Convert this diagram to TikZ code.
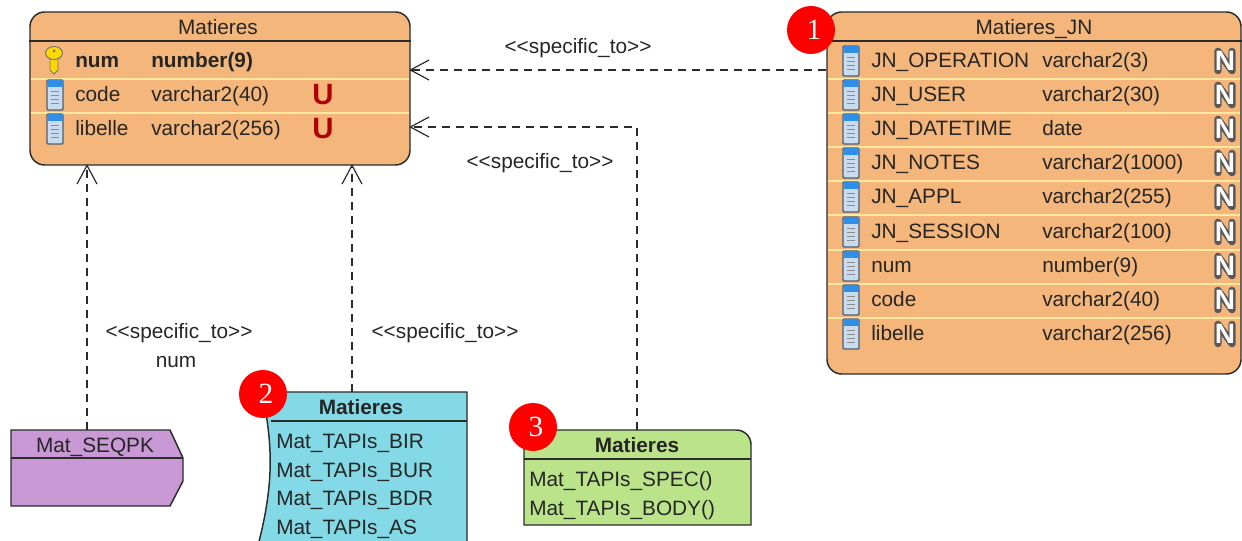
\documentclass[tikz,border=0pt]{standalone}
\usepackage{fontspec}
\setmainfont{Liberation Sans}
\newfontfamily\badgefont{Liberation Serif}
\usetikzlibrary{arrows.meta,positioning}
\definecolor{tablefill}{HTML}{F4B67A}
\definecolor{rowline}{HTML}{FFE9A0}
\definecolor{seqfill}{HTML}{C999D6}
\definecolor{pkgfill}{HTML}{84D9E6}
\definecolor{procfill}{HTML}{BBE48A}
\definecolor{edge}{HTML}{2B2B2B}
\definecolor{inktext}{HTML}{262626}
\definecolor{colbody}{HTML}{C9DBEE}
\definecolor{colband}{HTML}{2F8FE6}
\definecolor{colrim}{HTML}{4F5F73}
\tikzset{
	colicon/.pic={
		\draw [rounded corners=0.8pt,draw=colrim,line width=1.1pt,fill=colbody] (-8,-15) rectangle (8,15);
		\fill [colband] (-7.5,-15) rectangle (7.5,-8);
		\draw [black!45,line width=0.7pt] (-4,-4) -- (4,-4) (-4,0) -- (4,0) (-4,4) -- (4,4) (-4,8) -- (4,8);
	},
	keyicon/.pic={
		\draw [draw=black!55,line width=0.7pt,fill=yellow!75!orange] (-4,-6) -- (-4,10) -- (0,14) -- (4,10) -- (4,-6) -- cycle;
		\draw [draw=black!55,line width=0.7pt,fill=yellow!75!orange] (0,-7) ellipse (8.5 and 6.5);
		\fill [black!55] (0,-9) circle (1.5);
	},
	nullicon/.pic={
		\draw [line width=5.6pt,draw=black!65,line join=round,line cap=round] (-7,9.5) -- (-7,-9.5) -- (7,9.5) -- (7,-9.5);
		\node (-n) [text=white,font=\bfseries\fontsize{21}{21}\selectfont,inner sep=0] {N};
	},
}
\begin{document}
\begin{tikzpicture}[x=0.75pt,y=-0.75pt]
	\tikzstyle{tablebox} = [draw=edge,fill=tablefill,line width=1.1pt,rounded corners=11pt,inner sep=0];
	\tikzstyle{rowtext} = [anchor=west,inner sep=0,text height=11pt,text depth=3pt,text=inktext,font=\fontsize{15.6}{16}\selectfont];
	\tikzstyle{keytext} = [rowtext,font=\bfseries\fontsize{15.6}{16}\selectfont];
	\tikzstyle{headtext} = [inner sep=0,text height=11pt,text depth=3pt,text=inktext,font=\fontsize{15.6}{16}\selectfont];
	\tikzstyle{boldhead} = [headtext,font=\bfseries\fontsize{15.6}{16}\selectfont];
	\tikzstyle{shapeline} = [draw=edge,line width=1.1pt];
	\tikzstyle{rowsep} = [draw=rowline,line width=1.1pt];
	\tikzstyle{wire} = [draw=edge,line width=0.9pt,dash pattern=on 6pt off 4.5pt];
	\tikzstyle{opentip} = [-{Straight Barb[length=14pt,width=15pt,line width=0.9pt]},shorten >=-1.2pt];
	\tikzstyle{stereo} = [inner sep=0,text height=11pt,text depth=3pt,text=inktext,font=\fontsize{15.6}{16}\selectfont];
	\tikzstyle{uniq} = [inner sep=0,text=red!70!black,font=\bfseries\fontsize{22}{22}\selectfont];
	\tikzstyle{badge} = [circle,fill=red,minimum size=36pt,inner sep=0,text=white,font=\badgefont\fontsize{22}{22}\selectfont];
	\useasboundingbox (0,0) rectangle (1242,541);
	\clip (0,0) rectangle (1242,541);

	\node at (220,88.5) (matieres) [tablebox,minimum width=285pt,minimum height=114.75pt] {};
	\draw [shapeline] (matieres.west |- 0,41) -- (matieres.east |- 0,41);
	\draw [rowsep] (31,79) -- (409,79) (31,113) -- (409,113);
	\node at (218,29.5) (matieres_title) [headtext] {Matieres};
	\path (54,60) pic {keyicon} (55,95) pic {colicon} (55,129) pic {colicon};
	\node at (75,62) (mat_num) [keytext] {num};
	\node at (151,62) (mat_num_t) [keytext] {number(9)};
	\node at (75,96) (mat_code) [rowtext] {code};
	\node at (151,96) (mat_code_t) [rowtext] {varchar2(40)};
	\node at (323,95) (mat_code_u) [uniq] {U};
	\node at (75,130) (mat_lib) [rowtext] {libelle};
	\node at (151,130) (mat_lib_t) [rowtext] {varchar2(256)};
	\node at (323,129) (mat_lib_u) [uniq] {U};

	\node at (1034,193) (jn) [tablebox,minimum width=310.5pt,minimum height=271.5pt] {};
	\draw [shapeline] (jn.west |- 0,41) -- (jn.east |- 0,41);
	\draw [rowsep] (828,79) -- (1240,79) (828,113) -- (1240,113) (828,147) -- (1240,147) (828,181) -- (1240,181);
	\draw [rowsep] (828,215) -- (1240,215) (828,250) -- (1240,250) (828,284) -- (1240,284) (828,318) -- (1240,318);
	\node at (1034,29.5) (jn_title) [headtext] {Matieres\_JN};
	\node at (871,62) (jn_op) [rowtext] {JN\_OPERATION};
	\node at (1042,62) (jn_op_t) [rowtext] {varchar2(3)};
	\node at (871,96) (jn_user) [rowtext] {JN\_USER};
	\node at (1042,96) (jn_user_t) [rowtext] {varchar2(30)};
	\node at (871,130) (jn_date) [rowtext] {JN\_DATETIME};
	\node at (1042,130) (jn_date_t) [rowtext] {date};
	\node at (871,164) (jn_notes) [rowtext] {JN\_NOTES};
	\node at (1042,164) (jn_notes_t) [rowtext] {varchar2(1000)};
	\node at (871,198) (jn_appl) [rowtext] {JN\_APPL};
	\node at (1042,198) (jn_appl_t) [rowtext] {varchar2(255)};
	\node at (871,233) (jn_sess) [rowtext] {JN\_SESSION};
	\node at (1042,233) (jn_sess_t) [rowtext] {varchar2(100)};
	\node at (871,267) (jn_num) [rowtext] {num};
	\node at (1042,267) (jn_num_t) [rowtext] {number(9)};
	\node at (871,301) (jn_code) [rowtext] {code};
	\node at (1042,301) (jn_code_t) [rowtext] {varchar2(40)};
	\node at (871,335) (jn_lib) [rowtext] {libelle};
	\node at (1042,335) (jn_lib_t) [rowtext] {varchar2(256)};
	\path (851,61) pic {colicon} (851,95) pic {colicon} (851,129) pic {colicon};
	\path (851,163) pic {colicon} (851,197) pic {colicon} (851,232) pic {colicon};
	\path (851,266) pic {colicon} (851,300) pic {colicon} (851,334) pic {colicon};
	\path (1225,61) pic (n1) {nullicon} (1225,95) pic (n2) {nullicon} (1225,129) pic (n3) {nullicon};
	\path (1225,163) pic (n4) {nullicon} (1225,197) pic (n5) {nullicon} (1225,232) pic (n6) {nullicon};
	\path (1225,266) pic (n7) {nullicon} (1225,300) pic (n8) {nullicon} (1225,334) pic (n9) {nullicon};

	\draw [shapeline,fill=seqfill] (11,430) -- (170,430) -- (183,458) -- (183,481) -- (170,506) -- (11,506) -- cycle;
	\draw [shapeline] (11,458) -- (183,458);
	\node at (95,447) (seqpk) [headtext] {Mat\_SEQPK};
	\coordinate (seqpk_top) at (87,430);

	\draw [shapeline,fill=pkgfill] (262,392) -- (467,392) -- (467,560) -- (254,560) .. controls (274,490) and (274,450) .. (262,392);
	\draw [shapeline] (271,421) -- (467,421);
	\node at (361,409) (tapis) [boldhead] {Matieres};
	\node at (276,443) (tapis_bir) [rowtext] {Mat\_TAPIs\_BIR};
	\node at (276,472) (tapis_bur) [rowtext] {Mat\_TAPIs\_BUR};
	\node at (276,500) (tapis_bdr) [rowtext] {Mat\_TAPIs\_BDR};
	\node at (276,529) (tapis_as) [rowtext] {Mat\_TAPIs\_AS};
	\coordinate (tapis_top) at (352,392);

	\draw [shapeline,fill=procfill] (524,525) -- (524,430) [rounded corners=11pt] -- (751,430) [sharp corners] -- (751,525) -- cycle;
	\draw [shapeline] (524,459) -- (751,459);
	\node at (637,447) (proc) [boldhead] {Matieres};
	\node at (529,481) (proc_spec) [rowtext] {Mat\_TAPIs\_SPEC()};
	\node at (529,510) (proc_body) [rowtext] {Mat\_TAPIs\_BODY()};
	\coordinate (proc_top) at (637,430);

	\coordinate (row_jn) at (600,70);
	\coordinate (row_proc) at (600,127);
	\coordinate (proc_bend) at (proc_top |- row_proc);
	\draw [wire,opentip] (jn.west |- row_jn) -- (matieres.east |- row_jn);
	\draw [wire,opentip] (proc_top) -- (proc_bend) -- (matieres.east |- row_proc);
	\draw [wire,opentip] (seqpk_top) -- (seqpk_top |- matieres.south);
	\draw [wire,opentip] (tapis_top) -- (tapis_top |- matieres.south);

	\node at (578,48) (lab_jn) [stereo] {<{}<specific\_to>{}>};
	\node at (540,163) (lab_proc) [stereo] {<{}<specific\_to>{}>};
	\node at (179,333) (lab_seq) [stereo] {<{}<specific\_to>{}>};
	\node at (176,362) (lab_num) [stereo] {num};
	\node at (445,333) (lab_tapis) [stereo] {<{}<specific\_to>{}>};

	\node at (811,30) (badge1) [badge] {\kern4.5pt\raisebox{-1.5pt}{1}};
	\node at (263,394) (badge2) [badge] {\kern4.5pt\raisebox{-1.5pt}{2}};
	\node at (533,427) (badge3) [badge] {\kern4.5pt\raisebox{-1.5pt}{3}};
\end{tikzpicture}
\end{document}
